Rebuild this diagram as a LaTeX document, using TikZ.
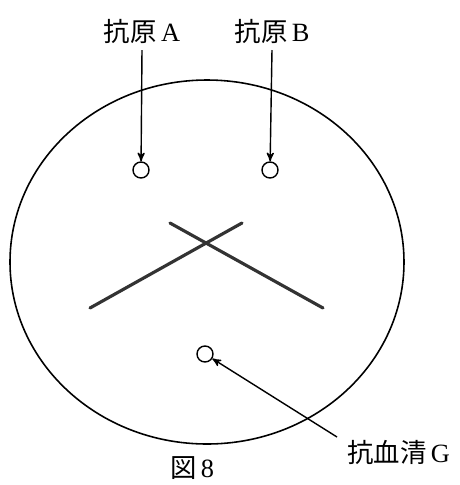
\documentclass[tikz,border=0pt]{standalone}
\usepackage{fontspec}
\setmainfont{Liberation Serif}
\newfontfamily\cjk{Noto Sans CJK JP}
\usepackage{tikz}
\usetikzlibrary{arrows}
\tikzset{
	well node/.style={circle,draw,thick,inner sep=0pt,minimum size=0.32cm},
	tag/.style={font=\fontsize{15}{17}\selectfont,inner sep=1pt},
	band/.style={line width=1.8pt,line cap=round,draw=black!80}
}

\begin{document}
\begin{tikzpicture}[x=0.02cm,y=-0.02cm,>=stealth',thick]
	\useasboundingbox (0,0) rectangle (460,485);
	\draw[line width=0.9pt] (207,262) ellipse [x radius=197,y radius=182];
	% antigens and antiserum
	\node [well node] (wA) at (141,170) {};
	\node [well node] (wB) at (270,170) {};
	\node [well node] (wG) at (205,354) {};
	\node [tag] (lA) at (142,31) {{\cjk 抗原}\,A};
	\node [tag] (lB) at (272,31) {{\cjk 抗原}\,B};
	\node [tag,anchor=west] (lG) at (345,452) {{\cjk 抗血清}\,G};
	\node [tag] (cap) at (192,468) {{\cjk 図}\,8};
	\coordinate (sA) at (142,50);
	\coordinate (sB) at (272,50);
	\draw[->] (sA) -- (wA);
	\draw[->] (sB) -- (wB);
	\coordinate (gS) at (337,437);
	\draw[->] (gS) -- (wG);
	% precipitin lines
	\draw[band] (90,308) -- (242,223);
	\draw[band] (170,223) -- (323,308);
\end{tikzpicture}
\end{document}
